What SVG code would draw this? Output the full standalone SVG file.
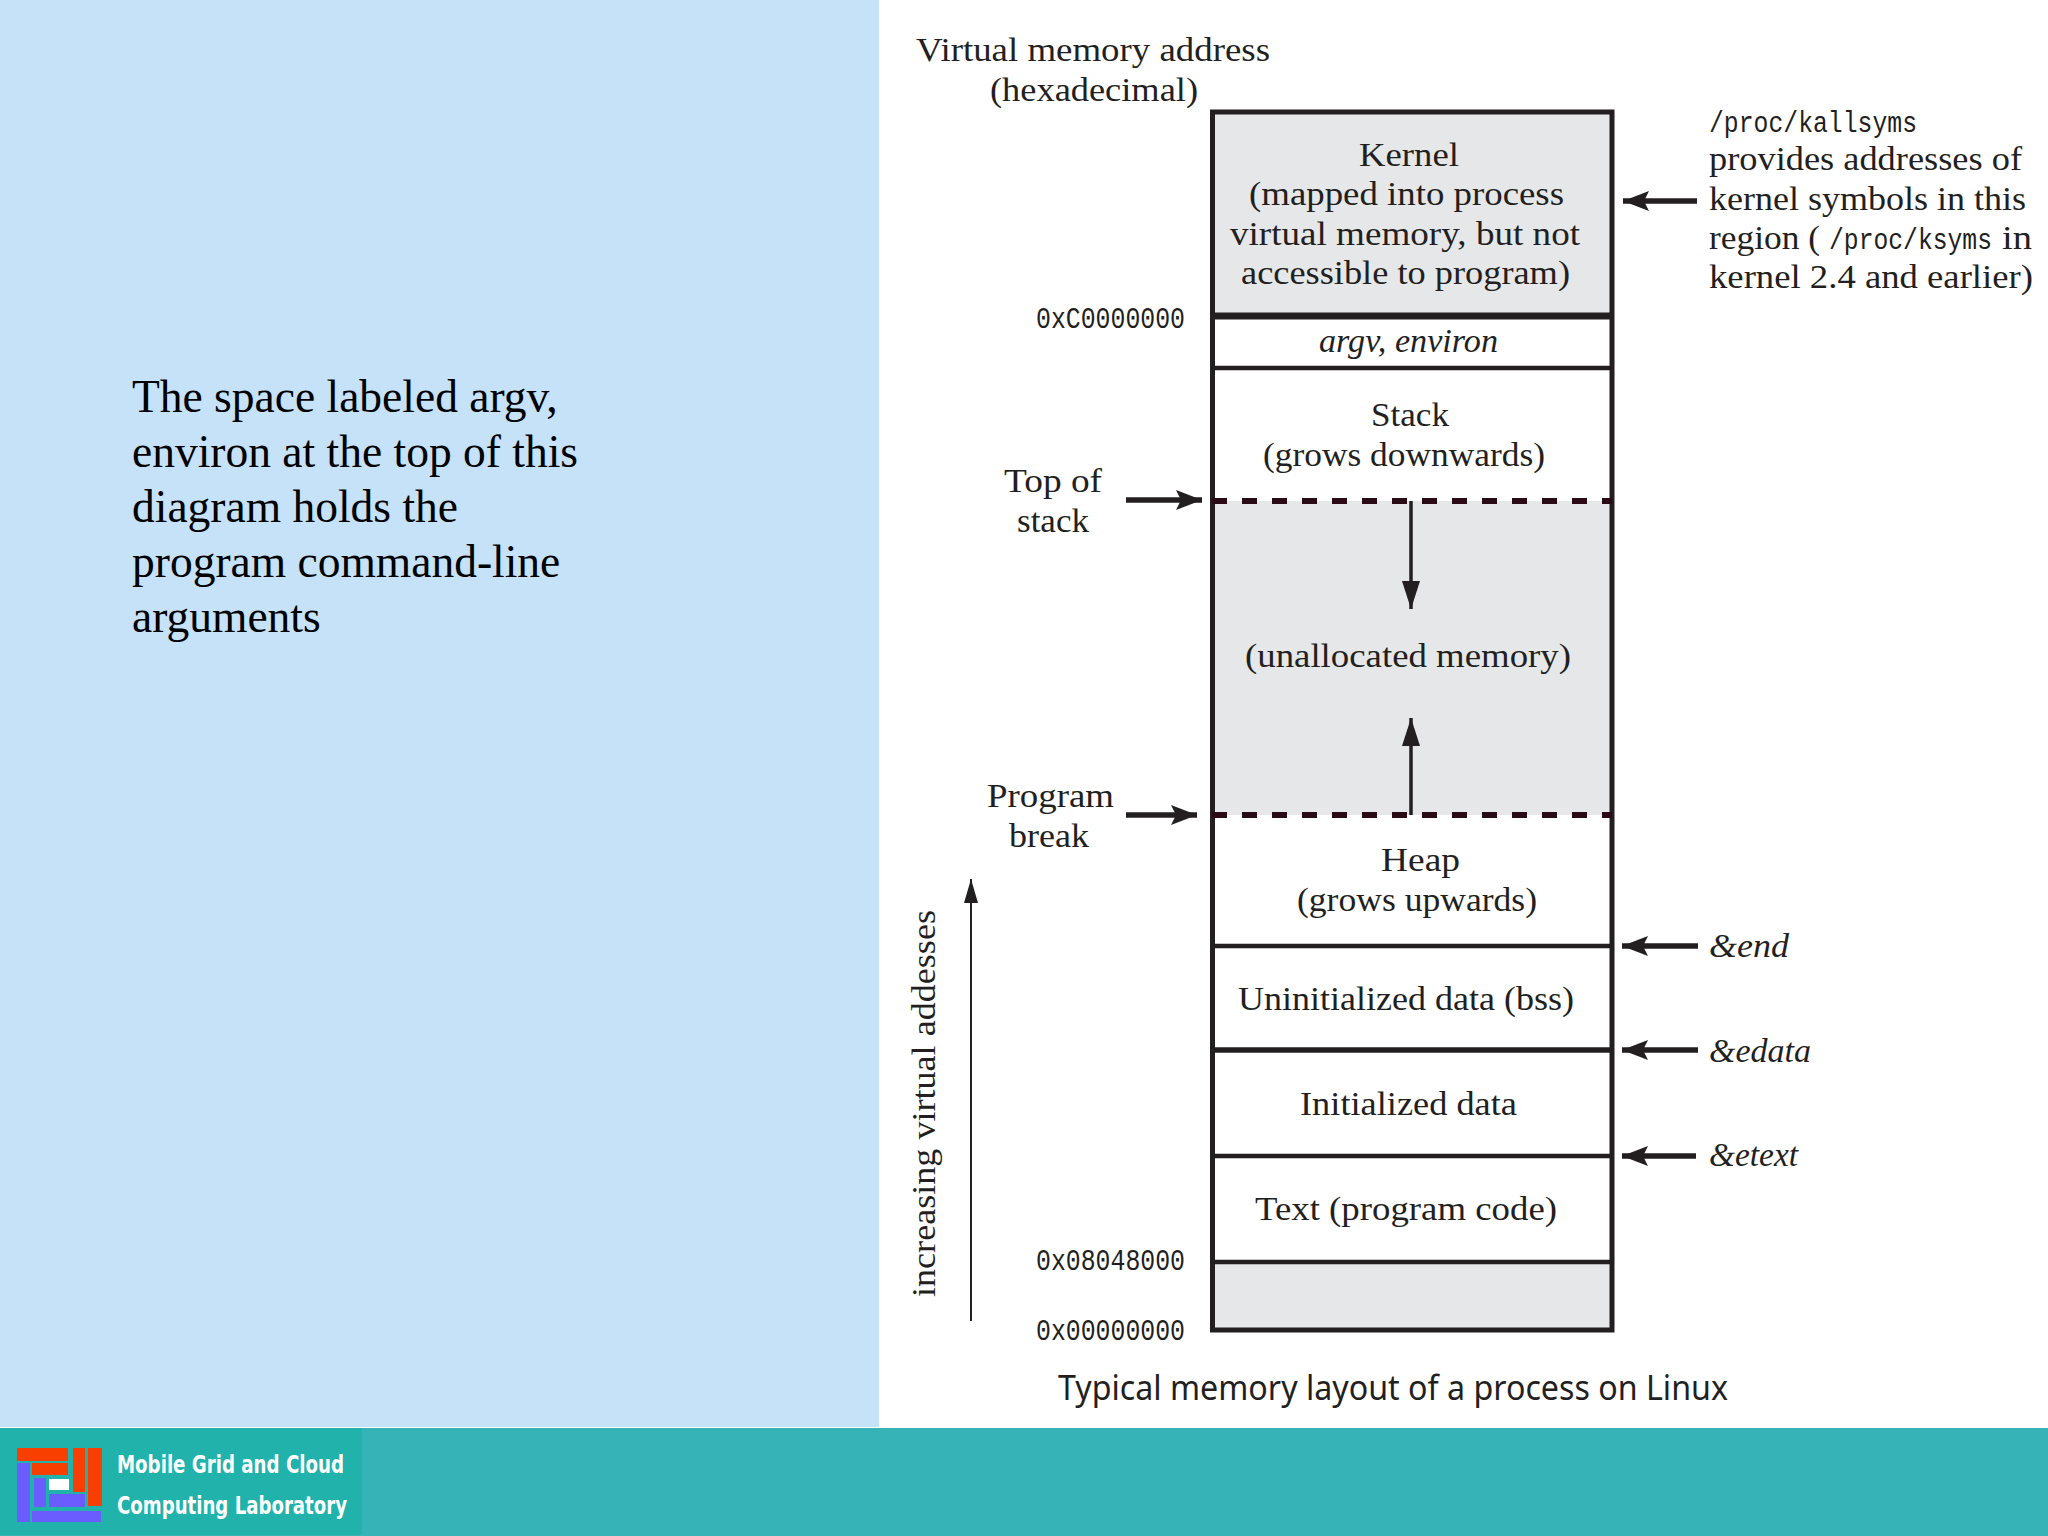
<svg xmlns="http://www.w3.org/2000/svg" width="2048" height="1536" viewBox="0 0 2048 1536">
<style>
text{fill:#231f20;font-family:"Liberation Serif",serif;font-size:33px}
.m{font-family:"Liberation Mono",monospace;font-size:29px}
.i{font-style:italic}
.l{font-size:45.5px;fill:#000}
.c{text-anchor:middle}
.w{font-family:"DejaVu Sans",sans-serif;font-weight:bold;font-size:24px;fill:#fff}
.cell{fill:#fff}
.grey{fill:#e6e7e8}
.a{stroke:#231f20;stroke-width:5.5;fill:none}
.o{fill:#f93f00}.p{fill:#6a5cff}
</style>
<defs>
<marker id="h" viewBox="0 0 26 20" refX="26" refY="10" markerWidth="26" markerHeight="20" markerUnits="userSpaceOnUse" orient="auto"><path d="M0 0L26 10L0 20L5 10Z" fill="#231f20"/></marker>
<marker id="t" viewBox="0 0 28 18" refX="28" refY="9" markerWidth="28" markerHeight="18" markerUnits="userSpaceOnUse" orient="auto"><path d="M0 0L28 9L0 18Z" fill="#231f20"/></marker>
<marker id="u" viewBox="0 0 24 14" refX="24" refY="7" markerWidth="24" markerHeight="14" markerUnits="userSpaceOnUse" orient="auto"><path d="M0 0L24 7L0 14Z" fill="#231f20"/></marker>
</defs>
<rect width="2048" height="1536" fill="#fff"/>
<rect id="left-panel" width="879" height="1427" fill="#c6e2f8"/>
<rect id="footer" y="1428" width="2048" height="108" fill="#35b3b7"/>
<g id="logo">
<rect y="1428" width="362" height="107" fill="#20b2ab"/>
<rect class="o" x="17" y="1448" width="51" height="13"/><rect class="o" x="32" y="1463" width="36" height="12"/><rect class="o" x="73" y="1448" width="12" height="44"/><rect class="o" x="88" y="1448" width="14" height="58"/>
<rect class="p" x="17" y="1463" width="13" height="59"/><rect class="p" x="32" y="1511" width="69" height="11"/><rect class="p" x="34" y="1478" width="12" height="29"/><rect class="p" x="49" y="1494" width="36" height="13"/>
<rect x="49" y="1479" width="20" height="11" fill="#fff"/>
<text class="w" x="117" y="1473" textLength="227" lengthAdjust="spacingAndGlyphs">Mobile Grid and Cloud</text>
<text class="w" x="117" y="1514" textLength="230" lengthAdjust="spacingAndGlyphs">Computing Laboratory</text>
</g>
<g id="note">
<text class="l" x="132" y="412">The space labeled argv,</text>
<text class="l" x="132" y="467">environ at the top of this</text>
<text class="l" x="132" y="522">diagram holds the</text>
<text class="l" x="132" y="577">program command-line</text>
<text class="l" x="132" y="632">arguments</text>
</g>
<g id="axis-title">
<text x="916" y="61" textLength="354" lengthAdjust="spacingAndGlyphs">Virtual memory address</text>
<text x="990" y="101" textLength="208" lengthAdjust="spacingAndGlyphs">(hexadecimal)</text>
</g>
<g id="kernel">
<rect class="cell grey" x="1212" y="112" width="400" height="204"/>
<text class="c" x="1409" y="166" textLength="100" lengthAdjust="spacingAndGlyphs">Kernel</text>
<text x="1249" y="205" textLength="315" lengthAdjust="spacingAndGlyphs">(mapped into process</text>
<text x="1230" y="245" textLength="350" lengthAdjust="spacingAndGlyphs">virtual memory, but not</text>
<text x="1241" y="284" textLength="329" lengthAdjust="spacingAndGlyphs">accessible to program)</text>
</g>
<g id="argv">
<rect class="cell" x="1212" y="316" width="400" height="52"/>
<text class="i" x="1319" y="352" textLength="179" lengthAdjust="spacingAndGlyphs">argv, environ</text>
</g>
<g id="stack">
<rect class="cell" x="1212" y="368" width="400" height="133"/>
<text x="1371" y="426" textLength="78" lengthAdjust="spacingAndGlyphs">Stack</text>
<text x="1263" y="466" textLength="282" lengthAdjust="spacingAndGlyphs">(grows downwards)</text>
</g>
<g id="unallocated">
<rect class="cell grey" x="1212" y="501" width="400" height="314"/>
<text x="1245" y="667" textLength="326" lengthAdjust="spacingAndGlyphs">(unallocated memory)</text>
</g>
<g id="heap">
<rect class="cell" x="1212" y="815" width="400" height="131"/>
<text x="1381" y="871" textLength="79" lengthAdjust="spacingAndGlyphs">Heap</text>
<text x="1297" y="911" textLength="240" lengthAdjust="spacingAndGlyphs">(grows upwards)</text>
</g>
<g id="bss">
<rect class="cell" x="1212" y="946" width="400" height="104"/>
<text x="1238" y="1010" textLength="336" lengthAdjust="spacingAndGlyphs">Uninitialized data (bss)</text>
</g>
<g id="data">
<rect class="cell" x="1212" y="1050" width="400" height="106"/>
<text x="1300" y="1115" textLength="217" lengthAdjust="spacingAndGlyphs">Initialized data</text>
</g>
<g id="text-seg">
<rect class="cell" x="1212" y="1156" width="400" height="106"/>
<text x="1255" y="1220" textLength="302" lengthAdjust="spacingAndGlyphs">Text (program code)</text>
</g>
<g id="low">
<rect class="cell grey" x="1212" y="1262" width="400" height="68"/>
</g>
<g id="frame" fill="none" stroke="#231f20">
<rect x="1212.5" y="112" width="399.5" height="1218" stroke-width="5"/>
<path d="M1212 316H1612" stroke-width="7"/>
<path d="M1212 368H1612M1212 946H1612M1212 1156H1612M1212 1262H1612" stroke-width="4.5"/>
<path d="M1212 1050H1612" stroke-width="5.5"/>
</g>
<g id="addresses">
<text class="m" x="1036" y="328" textLength="149" lengthAdjust="spacingAndGlyphs">0xC0000000</text>
<text class="m" x="1036" y="1270" textLength="149" lengthAdjust="spacingAndGlyphs">0x08048000</text>
<text class="m" x="1036" y="1340" textLength="149" lengthAdjust="spacingAndGlyphs">0x00000000</text>
</g>
<g id="labels">
<text x="1004" y="492" textLength="98" lengthAdjust="spacingAndGlyphs">Top of</text>
<text x="1017" y="532" textLength="72" lengthAdjust="spacingAndGlyphs">stack</text>
<text x="987" y="807" textLength="127" lengthAdjust="spacingAndGlyphs">Program</text>
<text x="1009" y="847" textLength="80" lengthAdjust="spacingAndGlyphs">break</text>
<text x="935" y="1297" transform="rotate(-90 935 1297)" textLength="387" lengthAdjust="spacingAndGlyphs">increasing virtual addesses</text>
<text class="i" x="1709" y="957" textLength="80" lengthAdjust="spacingAndGlyphs">&amp;end</text>
<text class="i" x="1709" y="1062" textLength="102" lengthAdjust="spacingAndGlyphs">&amp;edata</text>
<text class="i" x="1709" y="1166" textLength="89" lengthAdjust="spacingAndGlyphs">&amp;etext</text>
</g>
<g id="side-note">
<text class="m" x="1709" y="132" textLength="208" lengthAdjust="spacingAndGlyphs">/proc/kallsyms</text>
<text x="1709" y="170" textLength="313" lengthAdjust="spacingAndGlyphs">provides addresses of</text>
<text x="1709" y="210" textLength="317" lengthAdjust="spacingAndGlyphs">kernel symbols in this</text>
<text x="1709" y="249" textLength="111" lengthAdjust="spacingAndGlyphs">region (</text>
<text class="m" x="1829" y="249" textLength="163" lengthAdjust="spacingAndGlyphs">/proc/ksyms</text>
<text x="2002" y="249" textLength="30" lengthAdjust="spacingAndGlyphs">in</text>
<text x="1709" y="288" textLength="324" lengthAdjust="spacingAndGlyphs">kernel 2.4 and earlier)</text>
</g>
<text id="caption" x="1058" y="1400" textLength="670" lengthAdjust="spacingAndGlyphs" style="font-family:'Noto Sans',sans-serif;font-size:35px">Typical memory layout of a process on Linux</text>
<g id="connectors">
<path d="M1212 501H1612M1212 815H1612" stroke="#2a0a14" stroke-width="6" stroke-dasharray="15 15" fill="none"/>
<path class="a" d="M1126 500H1202" marker-end="url(#h)"/>
<path class="a" d="M1126 815H1197" marker-end="url(#h)"/>
<path class="a" d="M1697 201H1623" marker-end="url(#h)"/>
<path class="a" d="M1698 946H1622" marker-end="url(#h)"/>
<path class="a" d="M1698 1050H1622" marker-end="url(#h)"/>
<path class="a" d="M1696 1156H1622" marker-end="url(#h)"/>
<path d="M1411 501V609" stroke="#231f20" stroke-width="3.5" fill="none" marker-end="url(#t)"/>
<path d="M1411 815V718" stroke="#231f20" stroke-width="3.5" fill="none" marker-end="url(#t)"/>
<path d="M971 1321V879" stroke="#231f20" stroke-width="2" fill="none" marker-end="url(#u)"/>
</g>
</svg>
